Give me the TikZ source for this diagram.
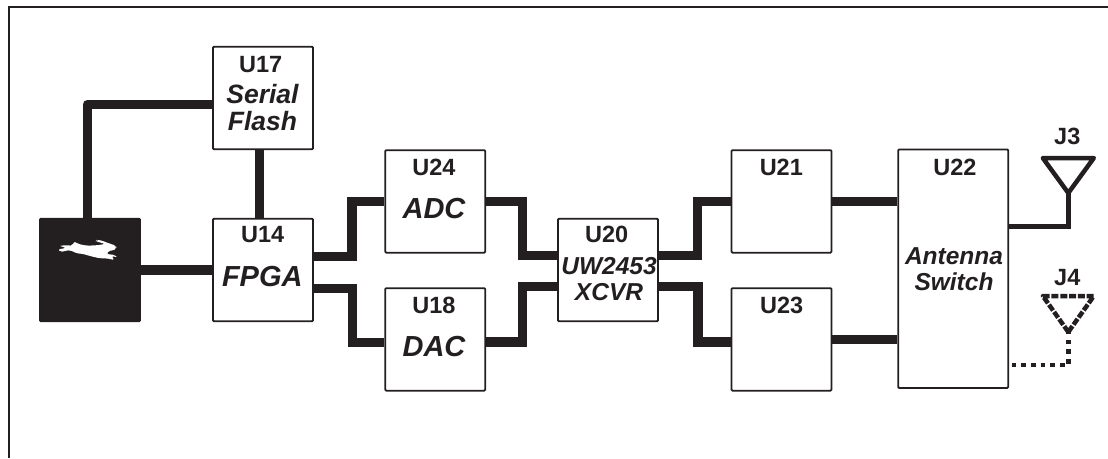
\documentclass[tikz,border=0pt]{standalone}
\usepackage{fontspec}
\setmainfont{Liberation Sans}
\definecolor{ink}{HTML}{231F20}
\begin{document}
\begin{tikzpicture}[
  x=1pt, y=-1pt,
  block/.style={rectangle, draw=ink, fill=white, line width=1.8pt, rounded corners=1pt, minimum width=100pt, minimum height=102.5pt},
  part/.style={anchor=base, inner sep=0pt, text=ink, font=\fontsize{23.5}{26}\selectfont\bfseries},
  func/.style={anchor=base, inner sep=0pt, align=center, text=ink, font=\fontsize{24.5}{26.7}\selectfont\bfseries\itshape},
  bigfunc/.style={func, font=\fontsize{29}{30}\selectfont\bfseries\itshape},
  bus/.style={draw=ink, line width=9.5pt},
  feed/.style={draw=ink, line width=4.5pt}
]
\useasboundingbox (0,0) rectangle (1108,458);
\draw[ink, line width=2pt] (9,458) -- (9,7) -- (1108,7);

% blocks
\node[block, fill=ink] (mcu) at (90,270) {};
\node[block, right of=mcu, node distance=173pt] (U14) {};
\node[block, above of=U14, node distance=172pt] (U17) {};
\node[block] (U24) at (435.3,201.4) {};
\node[block, below of=U24, node distance=138pt] (U18) {};
\node[block, right of=U14, node distance=345pt] (U20) {};
\node[block] (U21) at (781.5,201.4) {};
\node[block, below of=U21, node distance=138pt] (U23) {};
\node[block, minimum width=110pt, minimum height=238.5pt] (U22) at (953.2,268.7) {};

% labels
\node[part] (U17part) at (260.7,72.7) {U17};
\node[func, font=\fontsize{26.5}{26.7}\selectfont\bfseries\itshape] (U17func) at (262.5,130) {Serial\\Flash};
\node[part] (U14part) at (262.7,242.7) {U14};
\node[bigfunc] (U14func) at (262.3,286.7) {FPGA};
\node[part] (U24part) at (434,175.7) {U24};
\node[bigfunc] (U24func) at (434,218.3) {ADC};
\node[part] (U18part) at (434,313.3) {U18};
\node[bigfunc] (U18func) at (434,356) {DAC};
\node[part] (U20part) at (606.7,242.7) {U20};
\node[func] (U20func) at (609,300.7) {UW2453\\XCVR};
\node[part] (U21part) at (781.3,175.7) {U21};
\node[part] (U23part) at (781.7,313.3) {U23};
\node[part] (U22part) at (955,175.7) {U22};
\node[func] (U22func) at (954,290.7) {Antenna\\Switch};
\node[part] (J3part) at (1067.3,144.3) {J3};
\node[part] (J4part) at (1067.3,285.7) {J4};

% rabbit
\begin{scope}[shift={(50,230)}, x=0.3333pt, y=-0.3333pt]
\fill[white, rounded corners=2pt] (28,47) -- (50,46) -- (68,47) -- (72,34) -- (85,42) -- (110,47) -- (140,46) -- (165,42)
  -- (150,37) -- (137,34) -- (140,29) -- (160,33) -- (175,40) -- (185,42) -- (198,48) -- (200,55) -- (190,62) -- (175,62)
  -- (170,72) -- (195,75) -- (202,82) -- (185,78) -- (193,90) -- (170,85) -- (150,85) -- (120,78) -- (100,72) -- (80,70)
  -- (60,60) -- (30,66) -- (25,58) -- (48,54) -- cycle;
\end{scope}

% wires
\draw[bus] (U14) -- (mcu);
\draw[bus, line join=round] ([xshift=-2.7pt]mcu.north) |- ([yshift=-6.6pt]U17.west);
\draw[bus] ([xshift=-3.5pt]U17.south) -- ([xshift=-3.5pt]U14.north);
\draw[bus] ([yshift=13.3pt]U14.east) -- ++(38.2,0) |- (U24.west);
\draw[bus] ([yshift=-18.3pt]U14.east) -- ++(38.5,0) |- ([yshift=-3.3pt]U18.west);
\draw[bus] (U24.east) -- ++(36.2,0) |- ([yshift=14.7pt]U20.west);
\draw[bus] ([yshift=-2.6pt]U18.east) -- ++(36.2,0) |- ([yshift=-16.7pt]U20.west);
\draw[bus] ([yshift=14.7pt]U20.east) -- ++(38.7,0) |- (U21.west);
\draw[bus] ([yshift=-16.7pt]U20.east) -- ++(39,0) |- ([yshift=-2.6pt]U23.west);
\draw[bus] (U21.east) -- (U21.east -| U22.west);
\draw[bus] (U23.east) -- (U23.east -| U22.west);

% antennas
\coordinate (J3tip) at (1068.3,193);
\coordinate (J4tip) at (1068.3,332);
\draw[feed, line join=round] (J3tip) -- ++(-25.5,-35) -- ++(51,0) -- cycle;
\draw[feed, line join=round, dash pattern=on 7pt off 1.8pt] (J4tip) -- ++(-25.5,-36) -- ++(51,0) -- cycle;
\draw[feed] ([yshift=42pt]U22.east) -| (J3tip);
\draw[feed, dash pattern=on 4.5pt off 5.2pt] ([xshift=2.5pt,yshift=-96.3pt]U22.east) -| (J4tip);
\end{tikzpicture}
\end{document}
